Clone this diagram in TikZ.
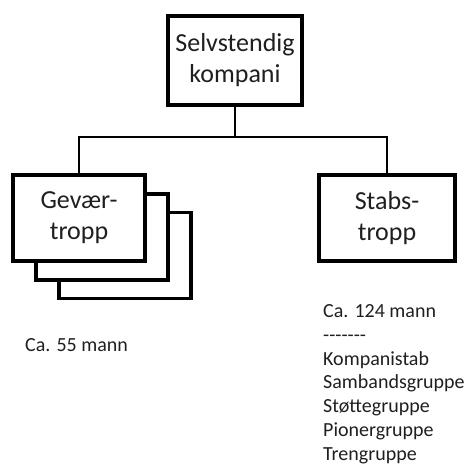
\documentclass[tikz,border=0pt]{standalone}
\usepackage{fontspec}
\setmainfont{Carlito}
\begin{document}
\begin{tikzpicture}[x=1pt,y=-1pt,
  orgbox/.style={draw=black, line width=3.8pt, fill=white, inner sep=0pt,
    minimum width=134pt, minimum height=86pt, align=center,
    font=\fontsize{26}{31}\selectfont, text=black!88},
  link/.style={draw=black, line width=2.2pt},
  note/.style={inner sep=0pt, align=left, font=\fontsize{20}{23.7}\selectfont, text=black!88}]
\useasboundingbox (0,0) rectangle (468,470);
% stacked boxes behind the front Gevaer box
\node[orgbox, minimum width=132pt] (gev3) at (125,255.5) {};
\node[orgbox, minimum width=132pt] (gev2) at (102,237) {};
\node[orgbox, minimum width=132pt] (gev) at (79,218) {Gevær-\\tropp};
\node[orgbox, minimum height=89pt] (top) at (235,60.5) {Selvstendig\\kompani};
\node[orgbox, minimum width=136pt] (stab) at (387,218) {Stabs-\\tropp};
\coordinate (bar) at (235,137);
\draw[link] (top.south) -- (top.south |- bar);
\draw[link] (gev.north) -- (gev.north |- bar) -- (stab.north |- bar) -- (stab.north);
\node[note, anchor=base west] (n55) at (25,351) {Ca. 55 mann};
\node[note, anchor=base west] (n124) at (323,460) {Ca. 124 mann\\-\kern0pt-\kern0pt-\kern0pt-\kern0pt-\kern0pt-\kern0pt-\\Kompanistab\\Sambandsgruppe\\Støttegruppe\\Pionergruppe\\Trengruppe};
\end{tikzpicture}
\end{document}
